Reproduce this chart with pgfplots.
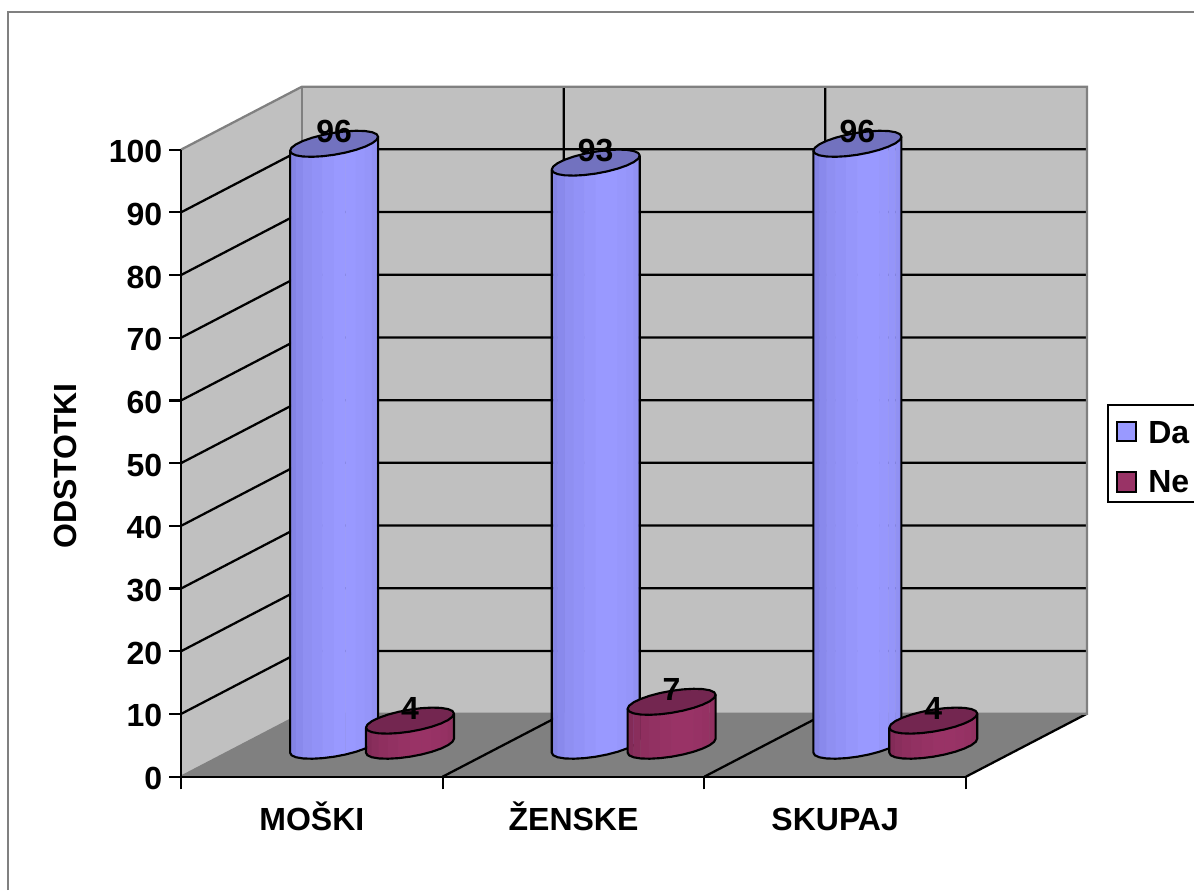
\documentclass[border=0pt]{standalone}
\usepackage{fontspec}
\setmainfont{Liberation Sans}
\usepackage{pgfplots}
\pgfplotsset{compat=1.18}

\definecolor{daleft}{HTML}{7F7FDF}
\definecolor{damid}{HTML}{9999FF}
\definecolor{daright}{HTML}{8A8AEA}
\definecolor{datop}{HTML}{7272BF}
\definecolor{neleft}{HTML}{7F2A55}
\definecolor{nemid}{HTML}{993366}
\definecolor{neright}{HTML}{8A2E5C}
\definecolor{netop}{HTML}{732650}
\definecolor{wall}{HTML}{C0C0C0}
\definecolor{floorgray}{HTML}{808080}

\newcommand\chartfont{\bfseries\fontsize{24}{26}\selectfont}

% one cylinder, drawn from the point (x,value); 4.7025pt is one percent on the y axis.
% tilted rim: x=33cos t, y=8.25sin t+5.25cos t
\newcommand\drawcyl[4]{%
  \pgfmathsetmacro\cylh{\rawv*4.7025}%
  \begin{scope}[x=1pt,y=1pt]
  \foreach \ta/\tb/\mixv in {180/195/0,195/210/16,210/225/40,225/240/60,240/255/75,255/270/88,270/285/100,285/300/100,300/315/88,315/330/70,330/345/45,345/360/20}{%
    \ifnum\tb<301 \colorlet{bandc}{#2!\mixv!#1}\else \colorlet{bandc}{#2!\mixv!#3}\fi
    \filldraw[draw=bandc,fill=bandc,line width=0.3pt]
      ({33*cos(\ta)},{8.25*sin(\ta)+5.25*cos(\ta)})
      -- ({33*cos(\tb)},{8.25*sin(\tb)+5.25*cos(\tb)})
      -- ({33*cos(\tb)},{8.25*sin(\tb)+5.25*cos(\tb)-\cylh})
      -- ({33*cos(\ta)},{8.25*sin(\ta)+5.25*cos(\ta)-\cylh}) -- cycle;
  }%
  \draw[black,line width=1.6pt,line join=round]
    (-33,-5.25) \foreach \t in {180,195,...,360}{ -- ({33*cos(\t)},{8.25*sin(\t)+5.25*cos(\t)-\cylh})}
    -- (33,5.25);
  \filldraw[draw=black,fill=#4,line width=1.6pt,line join=round]
    (-33,-5.25) \foreach \t in {195,210,...,345}{ -- ({33*cos(\t)},{8.25*sin(\t)+5.25*cos(\t)})}
    -- (33,5.25) \foreach \t in {15,30,...,165}{ -- ({33*cos(\t)},{8.25*sin(\t)+5.25*cos(\t)})} -- cycle;
  \end{scope}
}
\pgfdeclareplotmark{cylda}{\drawcyl{daleft}{damid}{daright}{datop}}
\pgfdeclareplotmark{cylne}{\drawcyl{neleft}{nemid}{neright}{netop}}

\pgfplotsset{
  cyl/.style n args={3}{
    scatter, only marks, mark=#1,
    visualization depends on={rawy \as \rawv},
    nodes near coords,
    every node near coord/.style={anchor=center,yshift=9pt,font=\chartfont,text=black,inner sep=0pt},
    legend image code/.code={\draw[black,line width=1.5pt,fill=#2,yshift=#3] (0.5pt,-7pt) rectangle (15pt,7.5pt); \path (21pt,0pt);},
  },
  chartbox/.style={
    scale only axis, width=588.75pt, height=470.25pt,
    at={(135.75pt,85pt)}, anchor=south west, clip=false,
    /pgf/number format/assume math mode=true,
  },
}

\begin{document}
\begin{tikzpicture}
\clip (0,0) rectangle (895.5pt,667.5pt);
\path[use as bounding box] (0,0) rectangle (895.5pt,667.5pt);
\fill[white] (0,0) rectangle (895.5pt,667.5pt);
\draw[floorgray,line width=1.5pt] (6pt,0pt) -- (6pt,658.5pt) -- (895.5pt,658.5pt);

\begin{axis}[chartbox, axis on top,
  xmin=0, xmax=3, ymin=0, ymax=100,
  axis x line=bottom, axis y line=left,
  axis line style={black,line width=1.7pt,-},
  tick align=outside,
  ytick={0,10,...,100},
  y tick style={black,line width=1.7pt},
  major tick length=9pt,
  xtick={0.5,1.5,2.5},
  xticklabels={MOŠKI,ŽENSKE,SKUPAJ},
  major x tick style={draw=none},
  minor xtick={0,1,2,3},
  minor tick length=9.5pt,
  minor x tick style={black,line width=1.7pt},
  x tick label style={anchor=base,yshift=-31pt,xshift=0pt},
  y tick label style={xshift=-1.5pt,yshift=-1.5pt},
  ticklabel style={font=\chartfont},
  ylabel={ODSTOTKI},
  ylabel style={font=\chartfont,at={(rel axis cs:0,0.5)},anchor=center,yshift=86.5pt,xshift=-2pt},
]
% walls and floor, the back plane lies 0.4624 categories and 10.05 percent behind the front
\addplot[fill=wall,draw=none] coordinates {(0,0) (0.4624,10.05) (0.4624,110.05) (0,100)} -- cycle;
\addplot[fill=wall,draw=none] coordinates {(0.4624,10.05) (3.4624,10.05) (3.4624,110.05) (0.4624,110.05)} -- cycle;
\addplot[fill=floorgray,draw=none] coordinates {(0,0) (3,0) (3.4624,10.05) (0.4624,10.05)} -- cycle;
% grid on the walls
\addplot[black,line width=1.7pt] coordinates {(0,10) (0.4624,20.05) (3.4624,20.05)};
\addplot[black,line width=1.7pt] coordinates {(0,20) (0.4624,30.05) (3.4624,30.05)};
\addplot[black,line width=1.7pt] coordinates {(0,30) (0.4624,40.05) (3.4624,40.05)};
\addplot[black,line width=1.7pt] coordinates {(0,40) (0.4624,50.05) (3.4624,50.05)};
\addplot[black,line width=1.7pt] coordinates {(0,50) (0.4624,60.05) (3.4624,60.05)};
\addplot[black,line width=1.7pt] coordinates {(0,60) (0.4624,70.05) (3.4624,70.05)};
\addplot[black,line width=1.7pt] coordinates {(0,70) (0.4624,80.05) (3.4624,80.05)};
\addplot[black,line width=1.7pt] coordinates {(0,80) (0.4624,90.05) (3.4624,90.05)};
\addplot[black,line width=1.7pt] coordinates {(0,90) (0.4624,100.05) (3.4624,100.05)};
\addplot[black,line width=1.7pt] coordinates {(1,0) (1.4624,10.05) (1.4624,110.05)};
\addplot[black,line width=1.7pt] coordinates {(2,0) (2.4624,10.05) (2.4624,110.05)};
\addplot[black,line width=1.7pt] coordinates {(3,0) (3.4624,10.05)};
% gray outer edges of the walls
\addplot[floorgray,line width=1.7pt] coordinates {(0,100) (0.4624,110.05) (3.4624,110.05) (3.4624,10.05) (0.4624,10.05) (0,0)};
\addplot[floorgray,line width=1.7pt] coordinates {(0.4624,10.05) (0.4624,110.05)};
\end{axis}

% bars stand halfway along the depth, hence the second axis with its own limits
\begin{axis}[chartbox, hide axis,
  xmin=-0.73, xmax=2.27, ymin=-4.94, ymax=95.06,
  legend style={at={(1.1796,0.5949)},anchor=north west,draw=black,line width=1.7pt,
    font=\chartfont,row sep=15pt,inner xsep=6pt,inner ysep=3.75pt,fill=white},
  legend cell align=left,
]
\addplot[cyl={cylda}{damid}{-2.5pt}] table {
x y
-0.145 96
0.855 93
1.855 96
};
\addlegendentry{\rule{0pt}{23pt}Da\hspace*{20pt}}
\addplot[cyl={cylne}{nemid}{0pt}] table {
x y
0.145 4
1.145 7
2.145 4
};
\addlegendentry{Ne\hspace*{20pt}}
\end{axis}
\end{tikzpicture}
\end{document}
